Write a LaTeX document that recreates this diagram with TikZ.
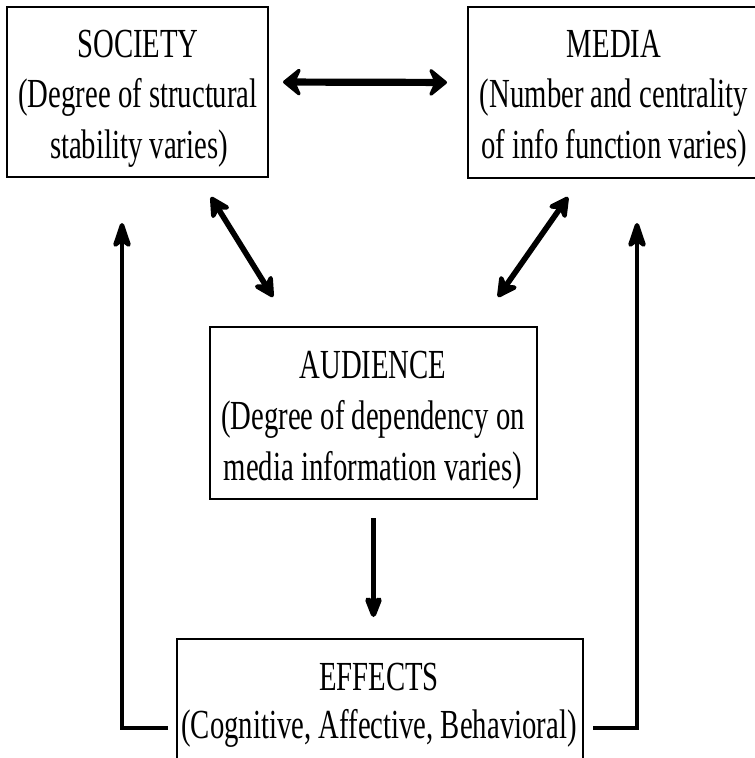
\documentclass[tikz,border=0pt]{standalone}
\usepackage{fontspec}
\setmainfont{Liberation Serif}
\usetikzlibrary{arrows.meta,calc}
\newcommand{\sqz}[1]{\scalebox{0.695}[1]{#1}}
\begin{document}
\begin{tikzpicture}[x=0.75pt,y=-0.75pt,
  box/.style={draw, line width=2.1pt, inner sep=0pt, outer sep=0pt},
  txt/.style={anchor=base, inner sep=0pt, font=\fontsize{31pt}{36pt}\selectfont},
  hz/.style={line width=5.4pt, {Stealth[length=16pt,width=26pt,inset=6pt,round]}-{Stealth[length=16pt,width=26pt,inset=6pt,round]}},
  dg/.style={line width=4.2pt, {Stealth[length=19pt,width=20pt,inset=6pt,round]}-{Stealth[length=19pt,width=20pt,inset=6pt,round]}},
  dn/.style={line width=4pt, -{Stealth[length=21pt,width=16pt,inset=5pt,round]}},
  fb/.style={line width=3.3pt, -{Stealth[length=24pt,width=16pt,inset=6pt,round]}}
]
\useasboundingbox (0,0) rectangle (755,758);

% boxes
\node[box, minimum width=195.75pt, minimum height=127.5pt] (soc) at (137.5,92) {};
\node[box, minimum width=219pt, minimum height=128.25pt] (med) at (614,92.5) {};
\node[box, minimum width=245.25pt, minimum height=129pt] (aud) at (373.5,413) {};
\node[box, minimum width=304.5pt, minimum height=102pt] (eff) at (380,707) {};

% texts
\node[txt] (s1) at (138,57) {\sqz{SOCIETY}};
\node[txt] (s2) at (138,107) {\sqz{(Degree of structural}};
\node[txt] (s3) at (139,158) {\sqz{stability varies)}};

\node[txt] (m1) at (614,57) {\sqz{MEDIA}};
\node[txt] (m2) at (614,107) {\sqz{(Number and centrality}};
\node[txt] (m3) at (614,158) {\sqz{of info function varies)}};

\node[txt] (a1) at (373,378) {\sqz{AUDIENCE}};
\node[txt] (a2) at (373,429) {\sqz{(Degree of dependency on}};
\node[txt] (a3) at (373,480) {\sqz{media information varies)}};

\node[txt] (e1) at (379,690) {\sqz{EFFECTS}};
\node[txt] (e2) at (379,738) {\sqz{(Cognitive, Affective, Behavioral)}};

% free-end coordinates
\coordinate (dLa) at (211,197);
\coordinate (dLb) at (273,297);
\coordinate (dRa) at (568,197);
\coordinate (dRb) at (498,297);
\coordinate (fbL1) at (168,728);
\coordinate (fbL2) at (122,223);
\coordinate (fbR1) at (593,728);
\coordinate (fbR2) at (637,223);

% connectors
\draw[hz, shorten <=11.25pt, shorten >=15.75pt] ([yshift=7.5pt]soc.east) -- ([yshift=7.5pt]med.west);
\draw[dg] (dLa) -- (dLb);
\draw[dg] (dRa) -- (dRb);
\draw[dn, shorten <=14.25pt, shorten >=16.5pt] (aud.south) -- (aud.south |- eff.north);
\draw[fb] (fbL1) -| (fbL2);
\draw[fb] (fbR1) -| (fbR2);
\end{tikzpicture}
\end{document}
